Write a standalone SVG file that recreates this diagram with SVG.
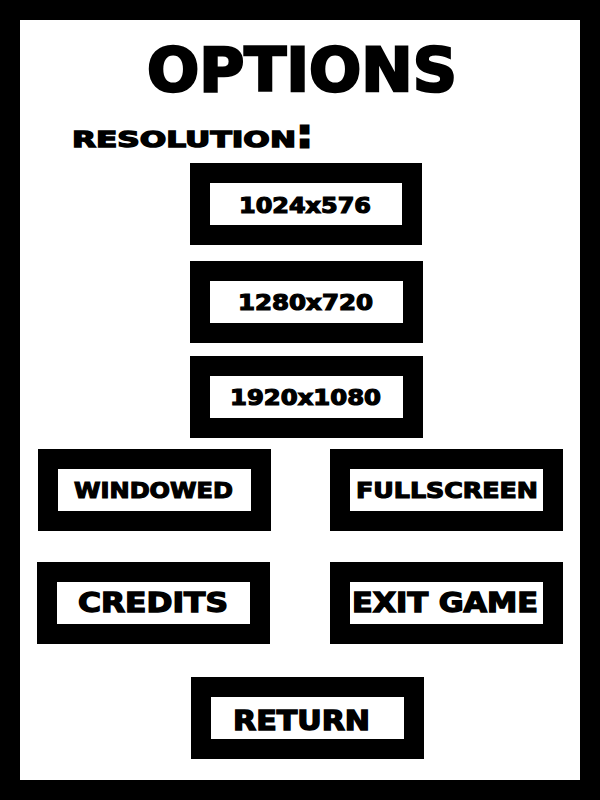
<svg xmlns="http://www.w3.org/2000/svg" width="600" height="800" viewBox="0 0 600 800">
<style>
.frame{fill:#000}
.page{fill:#fff}
.outer{fill:#000}
.inner{fill:#fff}
.t{font-family:"DejaVu Sans","Liberation Sans",sans-serif;font-weight:bold;fill:#000;stroke:#000;stroke-width:1.2;stroke-linejoin:miter}
.title{font-size:60px;stroke-width:2.5}
.lbl{font-size:22px;stroke-width:1.4}
.res{font-size:21px}
.mode{font-size:22px}
.big{font-size:27px;stroke-width:1.4}
</style>
<rect class="frame" x="0" y="0" width="600" height="800"/>
<rect class="page" x="20" y="20" width="560" height="760"/>
<g id="title">
<text class="t title" x="147" y="91" textLength="310" lengthAdjust="spacingAndGlyphs">OPTIONS</text>
</g>
<g id="resolution-label">
<text class="t lbl" x="72" y="147"><tspan textLength="224" lengthAdjust="spacingAndGlyphs">RESOLUTION</tspan><tspan x="297" font-size="38" stroke-width="3">:</tspan></text>
</g>
<g id="btn-1024x576">
<rect class="outer" x="190" y="163" width="232" height="82"/>
<rect class="inner" x="210" y="183" width="192" height="42"/>
<text class="t res" x="239" y="213" textLength="132" lengthAdjust="spacingAndGlyphs">1024x576</text>
</g>
<g id="btn-1280x720">
<rect class="outer" x="190" y="261" width="233" height="82"/>
<rect class="inner" x="210" y="281" width="193" height="42"/>
<text class="t res" x="238" y="310" textLength="135" lengthAdjust="spacingAndGlyphs">1280x720</text>
</g>
<g id="btn-1920x1080">
<rect class="outer" x="190" y="356" width="233" height="82"/>
<rect class="inner" x="210" y="376" width="193" height="42"/>
<text class="t res" x="230" y="405" textLength="151" lengthAdjust="spacingAndGlyphs">1920x1080</text>
</g>
<g id="btn-windowed">
<rect class="outer" x="38" y="449" width="233" height="82"/>
<rect class="inner" x="58" y="469" width="193" height="42"/>
<text class="t mode" x="74" y="498" textLength="159" lengthAdjust="spacingAndGlyphs">WINDOWED</text>
</g>
<g id="btn-fullscreen">
<rect class="outer" x="330" y="449" width="233" height="82"/>
<rect class="inner" x="350" y="469" width="193" height="42"/>
<text class="t mode" x="356" y="498" textLength="182" lengthAdjust="spacingAndGlyphs">FULLSCREEN</text>
</g>
<g id="btn-credits">
<rect class="outer" x="37" y="562" width="233" height="82"/>
<rect class="inner" x="57" y="582" width="193" height="42"/>
<text class="t big" x="78" y="612" textLength="150" lengthAdjust="spacingAndGlyphs">CREDITS</text>
</g>
<g id="btn-exit-game">
<rect class="outer" x="330" y="562" width="233" height="82"/>
<rect class="inner" x="350" y="582" width="193" height="42"/>
<text class="t big" x="352" y="612" textLength="186" lengthAdjust="spacingAndGlyphs">EXIT GAME</text>
</g>
<g id="btn-return">
<rect class="outer" x="191" y="677" width="233" height="82"/>
<rect class="inner" x="211" y="697" width="193" height="42"/>
<text class="t big" x="233" y="730" textLength="137" lengthAdjust="spacingAndGlyphs">RETURN</text>
</g>
<g id="connectors"></g>
</svg>
